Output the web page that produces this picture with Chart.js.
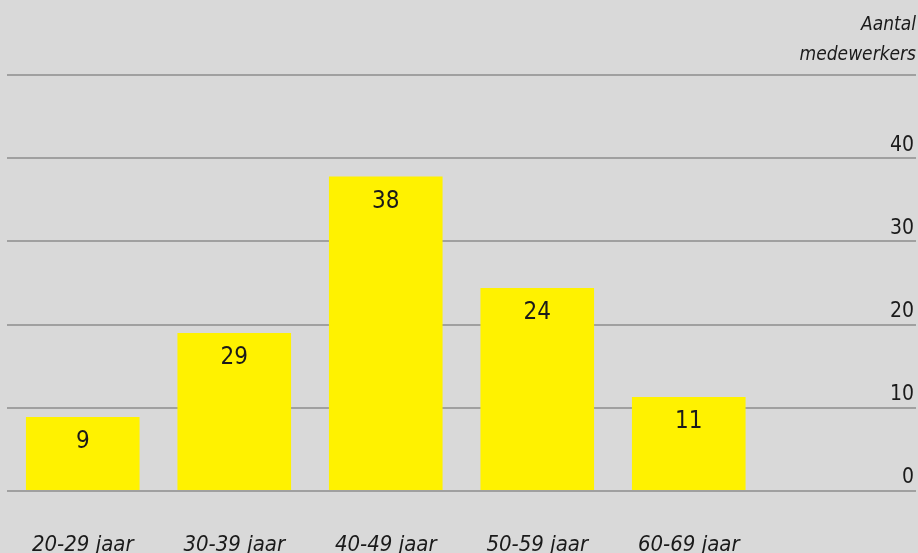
<!DOCTYPE html>
<html>
<head>
<meta charset="utf-8">
<script src="https://cdn.jsdelivr.net/npm/chart.js@4/dist/chart.umd.min.js"></script>
<style>
  html, body { margin: 0; padding: 0; background: #d9d9d9; }
  #wrap { width: 918px; height: 553px; }
</style>
</head>
<body>
<div id="wrap"><canvas id="myChart" width="918" height="553"></canvas></div>
<script>
// leeftijdsgroepen (laatste kolom blijft leeg, daar staan de aslabels)
const categories = ['20-29 jaar', '30-39 jaar', '40-49 jaar', '50-59 jaar', '60-69 jaar', ''];
const values = [8.9, 19, 37.8, 24.4, 11.3, null];
// getallen zoals ze in de balken staan
const valueLabels = ['9', '29', '38', '24', '11', ''];
const yTicks = [0, 10, 20, 30, 40, 50];

let font_naam = "'Liberation Sans Narrow', 'DejaVu Sans Condensed', 'Roboto', sans-serif";
let geel = '#fff200';
let tekst_kleur = '#1a1a1a';

Chart.defaults.font.family = font_naam;
Chart.defaults.color = tekst_kleur;

// getallen in de balken
const balkLabels = {
    id: 'balkLabels',
    afterDatasetsDraw(chart) {
        const ctx = chart.ctx;
        const meta = chart.getDatasetMeta(0);
        ctx.save();
        ctx.font = '24px ' + font_naam;
        ctx.fillStyle = tekst_kleur;
        ctx.textAlign = 'center';
        ctx.textBaseline = 'middle';
        meta.data.forEach(function (bar, i) {
            if (values[i] == null) return;
            ctx.fillText(valueLabels[i], bar.x, bar.y + 25);
        });
        ctx.restore();
    }
};

var ctx = document.getElementById('myChart').getContext('2d');
var chart = new Chart(ctx, {
    type: 'bar',
    data: {
        labels: categories,
        datasets: [{
            data: values,
            backgroundColor: geel,
            borderWidth: 0,
            categoryPercentage: 1,
            barPercentage: 0.75
        }]
    },
    plugins: [balkLabels],
    options: {
        responsive: false,
        animation: false,
        layout: {
            padding: { left: 7, right: 2, top: 0, bottom: 0 }
        },
        plugins: {
            legend: { display: false },
            tooltip: { enabled: false },
            title: {
                display: true,
                align: 'end',
                text: ['Aantal', 'medewerkers'],
                color: tekst_kleur,
                font: { size: 19, style: 'italic', weight: 'normal', lineHeight: 1.58 },
                padding: { top: 10, bottom: 5 }
            }
        },
        scales: {
            x: {
                grid: { display: false, drawTicks: false, tickLength: 0 },
                border: { display: false },
                ticks: {
                    padding: 41,
                    font: { size: 22, style: 'italic', lineHeight: 1.2 },
                    color: tekst_kleur,
                    maxRotation: 0,
                    autoSkip: false
                },
                afterFit: function (scale) {
                    scale.height = 62;
                    scale.paddingLeft = 0;
                    scale.paddingRight = 0;
                }
            },
            y: {
                position: 'right',
                min: 0,
                max: 50,
                afterBuildTicks: function (scale) {
                    scale.ticks = yTicks.map(function (v) { return { value: v }; });
                },
                afterFit: function (scale) {
                    scale.width = 0;
                    scale.paddingTop = 0;
                    scale.paddingBottom = 0;
                },
                grid: { color: '#a0a0a0', lineWidth: 2, drawTicks: false, tickLength: 0 },
                border: { display: false },
                ticks: {
                    mirror: true,
                    padding: -2,
                    labelOffset: -13,
                    font: { size: 21 },
                    color: tekst_kleur,
                    callback: function (v) { return v === 50 ? '' : v; }
                }
            }
        }
    }
});
</script>
</body>
</html>
